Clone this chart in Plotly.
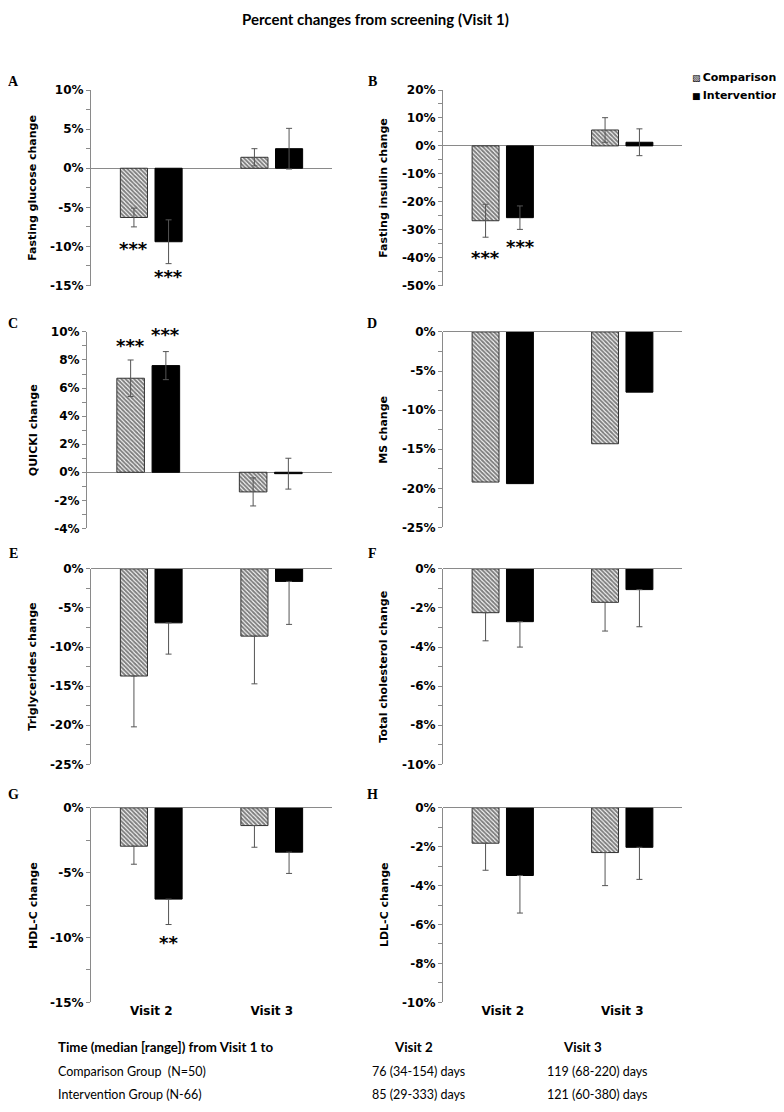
import plotly.graph_objects as go

# The page adds an 8 px body margin, so the figure is drawn 8 px smaller and all
# reference pixel positions are converted with that offset.
PAGE_W, PAGE_H = 784, 1112
OFF = 8
W, H = PAGE_W - OFF, PAGE_H - OFF


def fx(px):
    return (px - OFF) / W


def fy(py):
    return 1 - (py - OFF) / H


visits = ["Visit 2", "Visit 3"]
group_names = ["Comparison", "Intervention"]

# ---- data (percent change from Visit 1) ----
glucose_comp = [-6.3, 1.4]
glucose_comp_err = [1.2, 1.1]
glucose_int = [-9.4, 2.5]
glucose_int_err = [2.8, 2.6]

insulin_comp = [-26.8, 5.7]
insulin_comp_err = [5.9, 4.4]
insulin_int = [-25.7, 1.3]
insulin_int_err = [4.2, 4.8]

quicki_comp = [6.7, -1.4]
quicki_comp_err = [1.3, 1.0]
quicki_int = [7.6, -0.1]
quicki_int_err = [1.0, 1.1]

ms_comp = [-19.2, -14.3]
ms_int = [-19.4, -7.7]

tg_comp = [-13.7, -8.6]
tg_comp_err = [6.5, 6.1]
tg_int = [-6.9, -1.6]
tg_int_err = [4.0, 5.5]

tc_comp = [-2.24, -1.71]
tc_comp_err = [1.44, 1.47]
tc_int = [-2.70, -1.06]
tc_int_err = [1.30, 1.90]

hdl_comp = [-2.96, -1.37]
hdl_comp_err = [1.39, 1.67]
hdl_int = [-7.04, -3.42]
hdl_int_err = [1.96, 1.64]

ldl_comp = [-1.82, -2.30]
ldl_comp_err = [1.39, 1.70]
ldl_int = [-3.48, -2.03]
ldl_int_err = [1.93, 1.65]

panel_letters = ["A", "B", "C", "D", "E", "F", "G", "H"]
panel_titles = ["Fasting glucose change", "Fasting insulin change", "QUICKI change",
                "MS change", "Triglycerides change", "Total cholesterol change",
                "HDL-C change", "LDL-C change"]

# significance marks
sig_panel = [0, 0, 1, 1, 2, 2, 6]
sig_group = [0, 1, 0, 1, 0, 1, 1]
sig_visit = ["Visit 2"] * 7
sig_text = ["***", "***", "***", "***", "***", "***", "**"]
sig_y = [-9.6, -13.2, -38.0, -34.4, 9.4, 9.6, -10.0]
sig_extra_shift = [0, 0, 0, 0, 0, 8, 0]

legend_symbols = ["\u25A7", "\u25A0"]

table_header = ["Time (median [range]) from Visit 1 to", "Visit 2", "Visit 3"]
table_comp = ["Comparison Group  (N=50)", "76 (34-154) days", "119 (68-220) days"]
table_int = ["Intervention Group (N-66)", "85 (29-333) days", "121 (60-380) days"]

# ---- panel configuration (boxes in reference pixels: x0, x1, ytop, ybottom) ----
panels = [
    dict(comp=glucose_comp, ce=glucose_comp_err, intv=glucose_int, ie=glucose_int_err,
         rng=(-15, 10), dt=5, two=True, box=(91, 332, 84, 282), let_dy=9),
    dict(comp=insulin_comp, ce=insulin_comp_err, intv=insulin_int, ie=insulin_int_err,
         rng=(-50, 20), dt=10, two=True, box=(443, 682, 84, 282), let_dy=9),
    dict(comp=quicki_comp, ce=quicki_comp_err, intv=quicki_int, ie=quicki_int_err,
         rng=(-4, 10), dt=2, two=True, box=(87, 332, 329, 528), let_dy=9),
    dict(comp=ms_comp, ce=None, intv=ms_int, ie=None,
         rng=(-25, 0), dt=5, two=False, box=(443, 682, 329, 527), let_dy=9),
    dict(comp=tg_comp, ce=tg_comp_err, intv=tg_int, ie=tg_int_err,
         rng=(-25, 0), dt=5, two=False, box=(91, 332, 569, 767), let_dy=16),
    dict(comp=tc_comp, ce=tc_comp_err, intv=tc_int, ie=tc_int_err,
         rng=(-10, 0), dt=2, two=False, box=(443, 682, 569, 767), let_dy=16),
    dict(comp=hdl_comp, ce=hdl_comp_err, intv=hdl_int, ie=hdl_int_err,
         rng=(-15, 0), dt=5, two=False, box=(91, 332, 811, 1008), let_dy=13),
    dict(comp=ldl_comp, ce=ldl_comp_err, intv=ldl_int, ie=ldl_int_err,
         rng=(-10, 0), dt=2, two=False, box=(443, 682, 811, 1008), let_dy=13),
]

BOLD_SANS = "DejaVu Sans"
HUMAN = "Lato, sans-serif"
AXIS_GRAY = "#8a8a8a"
ERR_COLOR = "#555555"

fig = go.Figure()
annotations = []


def err_spec(err, two):
    if err is None:
        return dict(visible=False)
    if two:
        return dict(type="data", symmetric=True, array=err, color=ERR_COLOR,
                    thickness=1, width=3, visible=True)
    return dict(type="data", symmetric=False, array=[0] * len(err), arrayminus=err,
                color=ERR_COLOR, thickness=1, width=3, visible=True)


for i, p in enumerate(panels):
    n = i + 1
    xa = "x" if n == 1 else f"x{n}"
    ya = "y" if n == 1 else f"y{n}"
    fig.add_trace(go.Bar(
        x=visits, y=p["comp"], name=group_names[0], xaxis=xa, yaxis=ya,
        showlegend=False,
        marker=dict(color="white", line=dict(color="#333333", width=1),
                    pattern=dict(shape="\\", size=3, solidity=0.65,
                                 fgcolor="black", bgcolor="white", fillmode="overlay")),
        error_y=err_spec(p["ce"], p["two"]),
    ))
    fig.add_trace(go.Bar(
        x=visits, y=p["intv"], name=group_names[1], xaxis=xa, yaxis=ya,
        showlegend=False,
        marker=dict(color="black", line=dict(color="black", width=1)),
        error_y=err_spec(p["ie"], p["two"]),
    ))

    x0, x1, y0, y1 = p["box"]
    lo, hi = p["rng"]
    tickvals = list(range(lo, hi + 1, p["dt"]))
    ticktext = [f"{v}%" for v in tickvals]
    xkey = "xaxis" if n == 1 else f"xaxis{n}"
    ykey = "yaxis" if n == 1 else f"yaxis{n}"
    fig.update_layout(**{
        xkey: dict(domain=[fx(x0), fx(x1)], anchor=ya, showline=False, ticks="",
                   showticklabels=(n >= 7), showgrid=False, zeroline=False,
                   tickfont=dict(family=BOLD_SANS, size=12, color="black", weight="bold"),
                   type="category", range=[-0.5, 1.5]),
        ykey: dict(domain=[fy(y1), fy(y0)], anchor=xa, range=[lo, hi],
                   showline=True, linecolor=AXIS_GRAY, linewidth=1,
                   ticks="outside", ticklen=4, tickcolor=AXIS_GRAY, tickwidth=1,
                   tickvals=tickvals, ticktext=ticktext,
                   minor=dict(dtick=p["dt"] / 2, ticks="outside", ticklen=4,
                              tickcolor=AXIS_GRAY, showgrid=False),
                   showgrid=False, zeroline=True, zerolinecolor=AXIS_GRAY, zerolinewidth=1.3,
                   tickfont=dict(family=BOLD_SANS, size=12, color="black", weight="bold")),
    })

    lab_x = 33 if x0 < 200 else 384
    annotations.append(dict(
        text=panel_titles[i], textangle=-90, xref="paper", yref="paper",
        x=fx(lab_x), y=fy((y0 + y1) / 2), xanchor="center", yanchor="middle",
        showarrow=False, font=dict(family=BOLD_SANS, size=11, color="black", weight="bold")))
    let_x = 13 if x0 < 200 else 372
    annotations.append(dict(
        text=panel_letters[i], xref="paper", yref="paper",
        x=fx(let_x), y=fy(y0 - p["let_dy"]), xanchor="center", yanchor="middle",
        showarrow=False, font=dict(family="Liberation Serif", size=14, color="black", weight="bold")))

for pi, gi, v, t, yv, es in zip(sig_panel, sig_group, sig_visit, sig_text, sig_y, sig_extra_shift):
    n = pi + 1
    xr = "x" if n == 1 else f"x{n}"
    yr = "y" if n == 1 else f"y{n}"
    annotations.append(dict(
        text=t, x=v, y=yv, xref=xr, yref=yr, showarrow=False,
        xshift=(-17.3 if gi == 0 else 17.3), yshift=-5 + es,
        xanchor="center", yanchor="middle",
        font=dict(family=BOLD_SANS, size=18, color="black", weight="bold")))

# legend (Excel-style, drawn as text)
leg_y = [71, 90]
for sym, name, ly in zip(legend_symbols, group_names, leg_y):
    annotations.append(dict(
        text=f'<span style="font-size:9px">{sym}</span>\u2009{name}', xref="paper", yref="paper",
        x=fx(691), y=fy(ly), xanchor="left", yanchor="middle", align="left",
        showarrow=False, borderpad=0,
        font=dict(family=BOLD_SANS, size=11, color="black", weight="bold")))

annotations.append(dict(
    text="Percent changes from screening (Visit 1)", xref="paper", yref="paper",
    x=fx(375), y=fy(12), xanchor="center", yanchor="middle", showarrow=False,
    font=dict(family=HUMAN, size=15, color="black", weight="bold")))

row_y = [1053, 1078, 1101]
col_x = [56, 392, 561]
data_col_x = [56, 370, 545]
for j, txt in enumerate(table_header):
    annotations.append(dict(
        text=txt, xref="paper", yref="paper", x=fx(col_x[j]), y=fy(row_y[0]),
        xanchor="left", yanchor="middle", showarrow=False,
        font=dict(family=HUMAN, size=13.3, color="black", weight="bold")))
for r, row in enumerate([table_comp, table_int]):
    for j, txt in enumerate(row):
        annotations.append(dict(
            text=txt, xref="paper", yref="paper", x=fx(data_col_x[j]), y=fy(row_y[r + 1]),
            xanchor="left", yanchor="middle", showarrow=False,
            font=dict(family=HUMAN, size=12.5, color="black")))

fig.update_layout(
    width=W, height=H, margin=dict(l=0, r=0, t=0, b=0),
    paper_bgcolor="white", plot_bgcolor="white",
    barmode="group", bargap=0.425, bargroupgap=0.217,
    annotations=annotations,
    showlegend=False,
)

fig.write_html("out.html")
